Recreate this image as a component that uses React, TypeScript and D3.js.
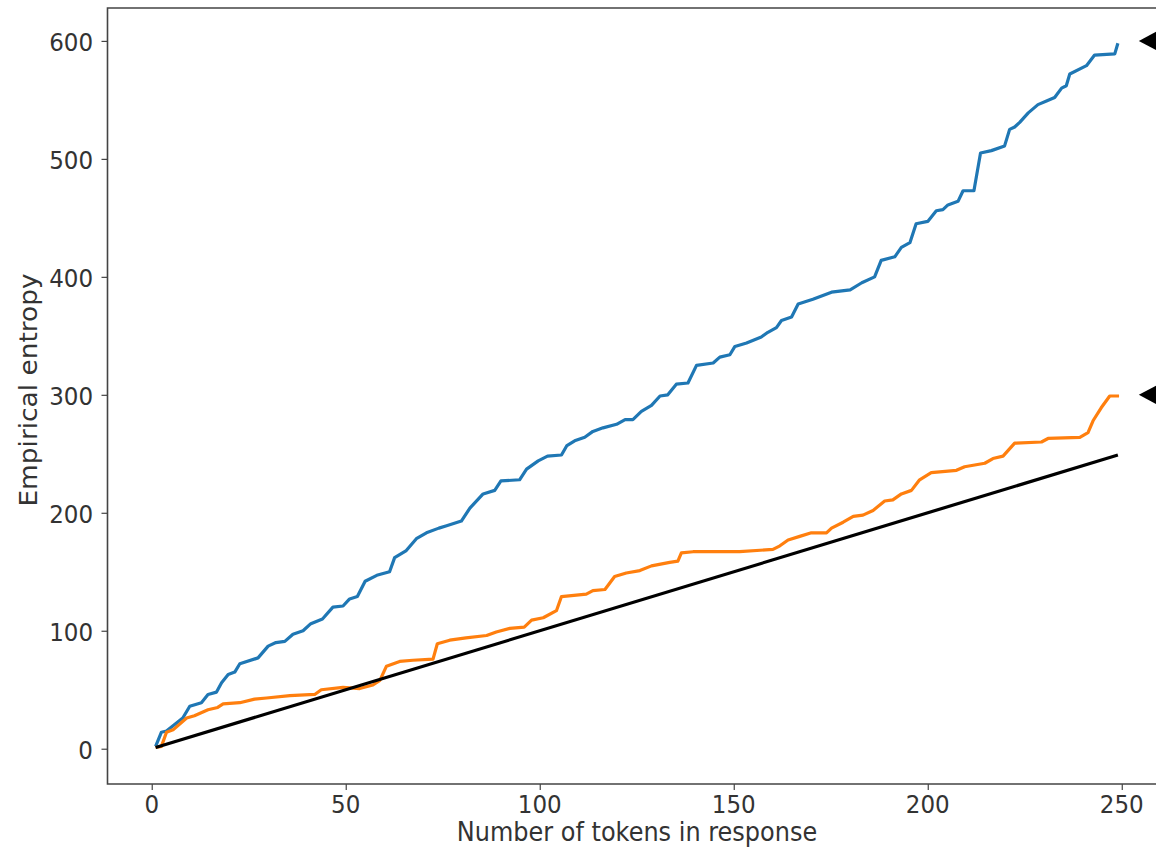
import { useEffect, useRef } from 'react'
import * as d3 from 'd3'

// breakpoints (token index, entropy)
const blueX = [1, 2.5, 3.8, 8, 9.8, 12.8, 14.5, 16.7, 18, 19.7, 21.4, 22.7, 27.4, 30, 32, 34.3, 36.4, 39, 41, 44, 46.7, 49.3, 51, 53, 55, 58, 61.3, 62.6, 65.6, 68.2, 70.8, 74, 76, 79.8, 82, 85.4, 88.4, 90, 94.8, 96.6, 99.6, 102, 105.6, 107, 109, 111.6, 113.7, 116.3, 119.8, 122, 124, 126.2, 128.8, 131, 133, 135.2, 138.2, 140.4, 144.7, 146.4, 149, 150.3, 153.3, 157.1, 158.8, 161, 162.3, 164.9, 166.6, 170.4, 175.2, 180, 183, 186.3, 188, 191.5, 193.2, 195.4, 197, 200, 202.2, 203.9, 205.2, 207.8, 209.1, 211.9, 213.6, 216.4, 219.8, 221.1, 222.4, 223.7, 225.9, 228.4, 230.6, 232.7, 234.5, 235.7, 236.6, 240.9, 243, 248.2, 249]
const blueY = [2, 14, 15, 26, 36, 39, 46, 48, 56, 63, 65, 72, 77, 87, 90, 91, 97, 100, 106, 110, 120, 121, 127, 129, 142, 147, 150, 162, 168, 178, 183, 187, 189, 193, 204, 216, 219, 227, 228, 237, 244, 248, 249, 257, 261, 264, 269, 272, 275, 279, 279, 286, 291, 299, 300, 309, 310, 325, 327, 332, 334, 341, 344, 349, 353, 357, 363, 366, 377, 381, 387, 389, 395, 400, 414, 417, 425, 429, 445, 447, 456, 457, 461, 464, 473, 473, 505, 507, 511, 525, 527, 531, 539, 546, 549, 552, 560, 562, 572, 579, 588, 589, 598]

const orangeX = [1, 2.5, 3.8, 5.5, 9, 11, 14.5, 17, 18.4, 22.7, 26.5, 29.6, 35.6, 42, 43.7, 49.3, 53.6, 57, 58.8, 60.5, 63.9, 67.3, 72.5, 73.6, 76.8, 81, 86.3, 88.8, 92.3, 96, 97.9, 100.9, 104.3, 105.6, 112, 113.7, 116.8, 119.3, 122.3, 125.8, 128.8, 133.5, 135.6, 136.5, 139.5, 151.5, 160.1, 161.9, 164, 167, 170, 173.9, 175.2, 178.2, 180.8, 183.3, 185.9, 188.9, 191, 193.2, 195.8, 197.9, 200.9, 207.4, 209.5, 214.7, 216.8, 219.4, 222.4, 229.3, 231, 239.2, 241.3, 242.6, 244.7, 246.9, 249.3]
const orangeY = [1, 2, 14, 16, 26, 28, 33, 35, 38, 39, 42, 43, 45, 46, 50, 52, 51, 54, 58, 70, 74, 75, 76, 89, 92, 94, 96, 99, 102, 103, 109, 111, 117, 129, 131, 134, 135, 146, 149, 151, 155, 158, 159, 166, 167, 167, 169, 172, 177, 180, 183, 183, 187, 192, 197, 198, 202, 210, 211, 216, 219, 228, 234, 236, 239, 242, 246, 248, 259, 260, 263, 264, 268, 278, 289, 299, 299]

const refX = [1, 249]
const refY = [1, 249]

const markerY = [600, 300]

const xTicks = [0, 50, 100, 150, 200, 250]
const yTicks = [0, 100, 200, 300, 400, 500, 600]

const W = 1156
const H = 849
const FONT = 'DejaVu Sans, sans-serif'
const STRETCH = 1.1 // text in the reference is slightly taller than wide
const TEXT = '#333'

export default function App() {
  const svgRef = useRef<SVGSVGElement>(null)

  useEffect(() => {
    if (!svgRef.current) return
    const svg = d3.select(svgRef.current)
    svg.selectAll('*').remove()

    const left = 107.5, right = 1166, top = 8, bottom = 784
    const x = d3.scaleLinear().domain([-11.4, 261.4]).range([left, right])
    const y = d3.scaleLinear().domain([-29.9, 627.9]).range([bottom, top])

    svg.append('rect').attr('width', W).attr('height', H).attr('fill', '#fff')

    svg.append('defs').append('clipPath').attr('id', 'plot')
      .append('rect').attr('x', left).attr('y', top)
      .attr('width', right - left).attr('height', bottom - top)

    const line = d3.line<[number, number]>().x(d => x(d[0])).y(d => y(d[1]))
    const plot = svg.append('g').attr('clip-path', 'url(#plot)')

    const series: [number[], number[], string][] = [
      [blueX, blueY, '#1f77b4'],
      [orangeX, orangeY, '#ff7f0e'],
      [refX, refY, '#000']
    ]
    series.forEach(([xs, ys, color]) => {
      plot.append('path')
        .datum(xs.map((v, i) => [v, ys[i]] as [number, number]))
        .attr('d', line)
        .attr('fill', 'none')
        .attr('stroke', color)
        .attr('stroke-width', 3.2)
        .attr('stroke-linejoin', 'round')
    })

    // left-pointing markers at the end values
    markerY.forEach(v => {
      const tx = x(254.4), ty = y(v)
      svg.append('path')
        .attr('d', `M${tx},${ty} L${tx + 28},${ty - 15} L${tx + 28},${ty + 15} Z`)
        .attr('fill', '#000')
    })

    svg.append('g')
      .attr('transform', `translate(0,${bottom})`)
      .call(d3.axisBottom(x).tickValues(xTicks).tickSize(6).tickFormat(() => ''))
      .call(ax => ax.select('.domain').remove())
      .call(ax => ax.selectAll('line').attr('stroke', '#444').attr('stroke-width', 1.2))

    svg.append('g')
      .attr('transform', `translate(${left},0)`)
      .call(d3.axisLeft(y).tickValues(yTicks).tickSize(6).tickFormat(() => ''))
      .call(ax => ax.select('.domain').remove())
      .call(ax => ax.selectAll('line').attr('stroke', '#444').attr('stroke-width', 1.2))

    const label = (tx: number, ty: number, txt: string, anchor: string, fs: number, rot = false) =>
      svg.append('text')
        .attr('transform', rot
          ? `translate(${tx},${ty}) rotate(-90) scale(${STRETCH},1)`
          : `translate(${tx},${ty}) scale(1,${STRETCH})`)
        .attr('text-anchor', anchor)
        .attr('font-family', FONT).attr('font-size', fs).attr('fill', TEXT)
        .text(txt)

    xTicks.forEach(v => label(x(v), 813, String(v), 'middle', 23))
    yTicks.forEach(v => label(93, y(v) + 10, String(v), 'end', 23))

    // spines (right one falls outside the picture)
    svg.append('path')
      .attr('d', `M${right},${top} H${left} V${bottom} H${right}`)
      .attr('fill', 'none')
      .attr('stroke', '#444')
      .attr('stroke-width', 1.6)

    label(637, 841, 'Number of tokens in response', 'middle', 24)
    label(37, 390, 'Empirical entropy', 'middle', 24, true)
  }, [])

  return (
    <svg ref={svgRef} width={W} height={H}
      style={{ position: 'absolute', left: 0, top: 0, display: 'block' }} />
  )
}
